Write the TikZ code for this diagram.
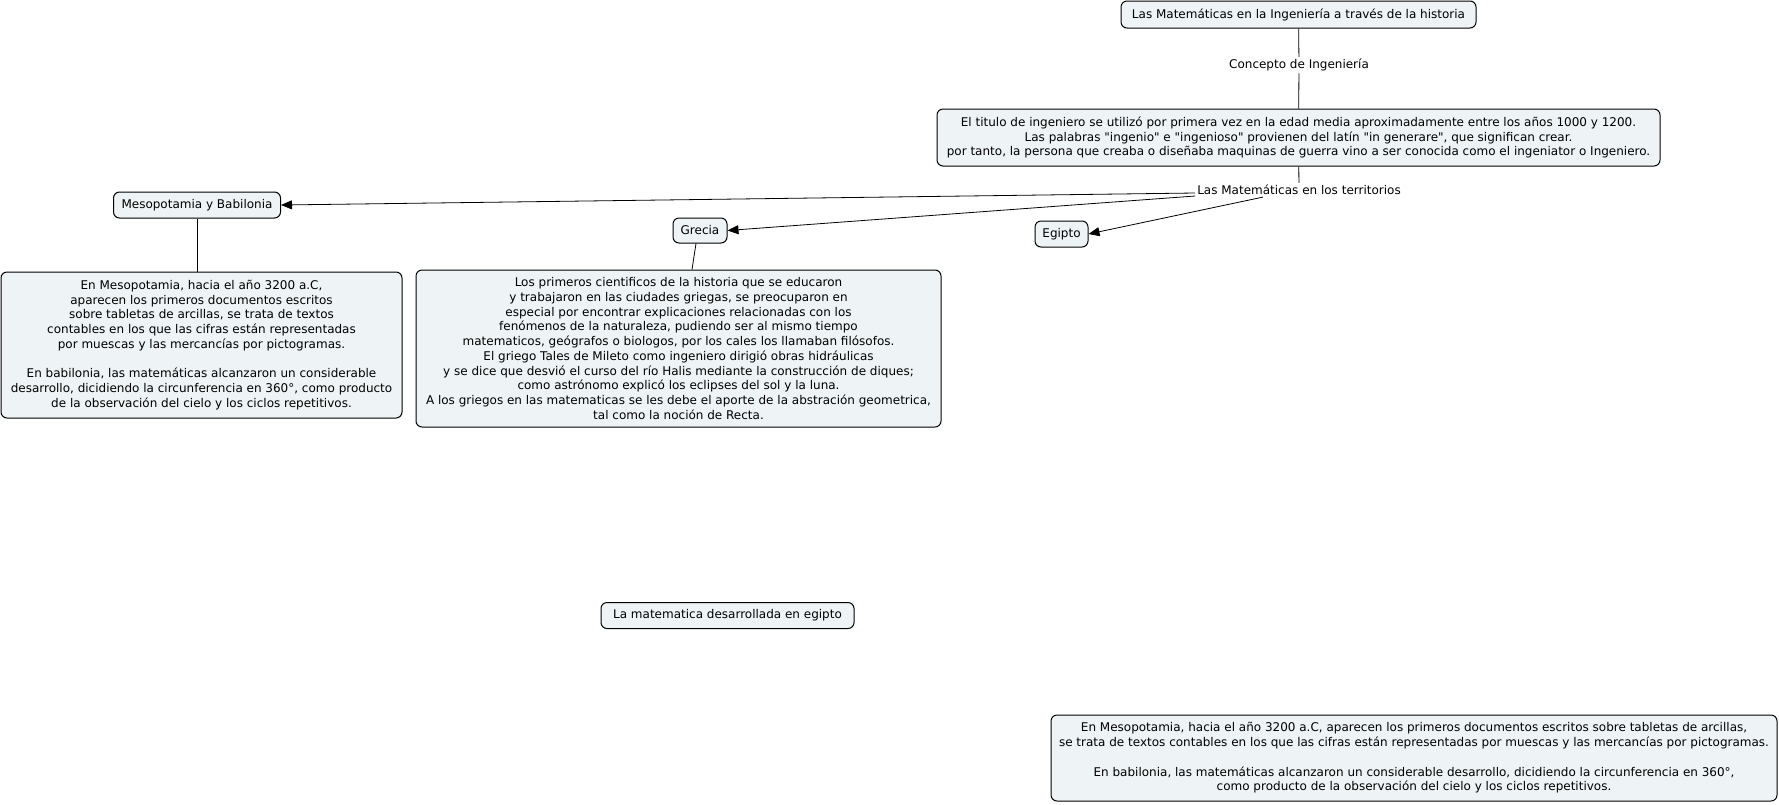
\documentclass[tikz,border=0pt]{standalone}
\usepackage{fontspec}
\setmainfont{DejaVu Sans}[Ligatures=TeXOff]
\usetikzlibrary{arrows.meta}
\definecolor{boxfill}{HTML}{EEF3F5}

\begin{document}
\begin{tikzpicture}[x=1pt,y=-1pt,
  box/.style={draw, fill=boxfill, rounded corners=6pt, line width=1pt, align=center, inner sep=0pt, font=\fontsize{12}{14.75}\selectfont},
  lbl/.style={align=center, inner sep=2pt, font=\fontsize{12}{14.75}\selectfont},
  arr/.style={-{Triangle[length=11pt,width=9pt]}, line width=0.8pt}]
\useasboundingbox (0,0) rectangle (1779,804);
\node [box, minimum width=355, minimum height=27] (titulo) at (1298.5,14.5) {Las Matemáticas en la Ingeniería a través de la historia};
\node [lbl] (concepto) at (1299,65) {Concepto de Ingeniería};
\node [box, minimum width=723, minimum height=57] (ingeniero) at (1298.5,137.5) {El titulo de ingeniero se utilizó por primera vez en la edad media aproximadamente entre los años 1000 y 1200.\\
Las palabras "ingenio" e "ingenioso" provienen del latín "in generare", que significan crear.\\
por tanto, la persona que creaba o diseñaba maquinas de guerra vino a ser conocida como el ingeniator o Ingeniero.};
\node [lbl] (territorios) at (1299,190) {Las Matemáticas en los territorios};
\node [box, minimum width=167, minimum height=26] (meso) at (197,205) {Mesopotamia y Babilonia};
\node [box, minimum width=54, minimum height=25] (grecia) at (700,230.5) {Grecia};
\node [box, minimum width=53, minimum height=26] (egipto) at (1061.5,234) {Egipto};
\node [box, minimum width=401, minimum height=146] (mesotexto) at (201.5,345) {En Mesopotamia, hacia el año 3200 a.C,\\
aparecen los primeros documentos escritos\\
sobre tabletas de arcillas, se trata de textos\\
contables en los que las cifras están representadas\\
por muescas y las mercancías por pictogramas.\\[14.75pt]
En babilonia, las matemáticas alcanzaron un considerable\\
desarrollo, dicidiendo la circunferencia en 360°, como producto\\
de la observación del cielo y los ciclos repetitivos.};
\node [box, minimum width=525, minimum height=157] (greciatexto) at (678.5,348.5) {Los primeros cientificos de la historia que se educaron\\
y trabajaron en las ciudades griegas, se preocuparon en\\
especial por encontrar explicaciones relacionadas con los\\
fenómenos de la naturaleza, pudiendo ser al mismo tiempo\\
matematicos, geógrafos o biologos, por los cales los llamaban filósofos.\\
El griego Tales de Mileto como ingeniero dirigió obras hidráulicas\\
y se dice que desvió el curso del río Halis mediante la construcción de diques;\\
como astrónomo explicó los eclipses del sol y la luna.\\
A los griegos en las matematicas se les debe el aporte de la abstración geometrica,\\
tal como la noción de Recta.};
\node [box, minimum width=253, minimum height=26] (egiptomat) at (727.5,615.5) {La matematica desarrollada en egipto};
\node [box, minimum width=726, minimum height=86] (mesobis) at (1414,758) {En Mesopotamia, hacia el año 3200 a.C, aparecen los primeros documentos escritos sobre tabletas de arcillas,\\
se trata de textos contables en los que las cifras están representadas por muescas y las mercancías por pictogramas.\\[14.75pt]
En babilonia, las matemáticas alcanzaron un considerable desarrollo, dicidiendo la circunferencia en 360°,\\
como producto de la observación del cielo y los ciclos repetitivos.};
% conectores
\draw [line width=0.8pt] (titulo) -- (concepto) -- (ingeniero);
\draw [line width=0.8pt] (ingeniero) -- (territorios);
\draw [arr] ([yshift=-3pt]territorios.west) -- (meso.east);
\draw [arr] ([yshift=-6pt]territorios.west) -- (grecia.east);
\draw [arr] ([xshift=-36pt]territorios.south) -- (egipto.east);
\draw [line width=0.8pt] (meso.south) -- (meso.south |- mesotexto.north);
\draw [line width=0.8pt] ([xshift=-4pt]grecia.south) -- ([xshift=13.5pt]greciatexto.north);
\end{tikzpicture}
\end{document}
